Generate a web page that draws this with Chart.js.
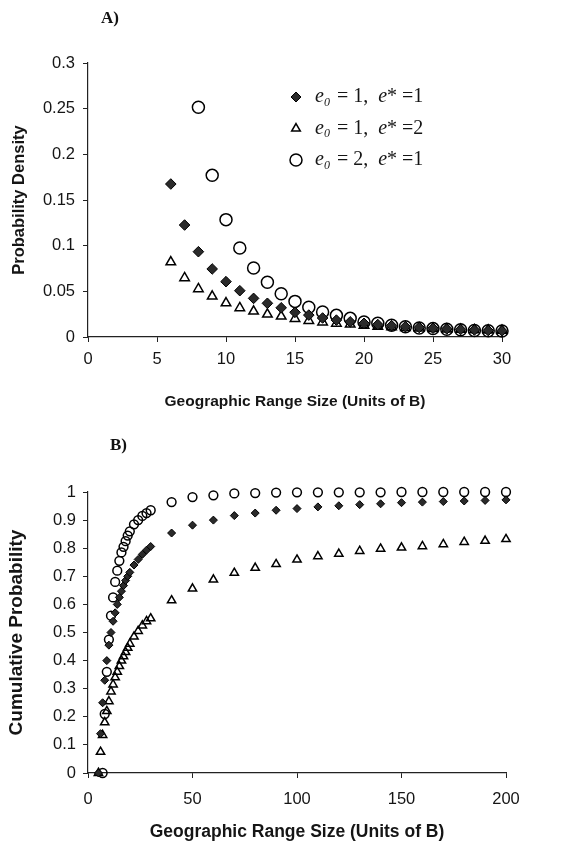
<!DOCTYPE html>
<html><head><meta charset="utf-8">
<script src="https://cdn.jsdelivr.net/npm/chart.js@4/dist/chart.umd.min.js"></script>
<style>
html,body{margin:0;padding:0;background:#fff;}
#wrap{position:relative;width:584px;height:852px;overflow:hidden;}
canvas{position:absolute;left:0;}
#cA{top:0;} #cB{top:420px;}
.lab{position:absolute;font-family:"Liberation Serif","Times New Roman",serif;font-weight:bold;font-size:17px;color:#111;}
</style></head><body>
<div id="wrap">
<canvas id="cA" width="584" height="420"></canvas>
<canvas id="cB" width="584" height="432"></canvas>
<div class="lab" style="left:101px;top:8px">A)</div>
<div class="lab" style="left:110px;top:435px">B)</div>
</div>
<script>
// ---------- data ----------
const e0Values = [1, 1, 2];
const eStarValues = [1, 2, 1];

// Panel A: probability density
const xA_dia = [6,7,8,9,10,11,12,13,14,15,16,17,18,19,20,21,22,23,24,25,26,27,28,29,30];
const densDia = [0.1675,0.1226,0.0934,0.0745,0.0606,0.0507,0.0423,0.0369,0.0320,0.0270,0.0240,0.0208,0.0185,0.0166,0.0150,0.0136,0.0124,0.0113,0.0104,0.0096,0.0089,0.0082,0.0077,0.0071,0.0067];
const xA_tri = [6,7,8,9,10,11,12,13,14,15,16,17,18,19,20,21,22,23,24,25,26,27,28,29,30];
const densTri = [0.0820,0.0646,0.0526,0.0445,0.0372,0.0318,0.0281,0.0248,0.0226,0.0200,0.0179,0.0162,0.0148,0.0139,0.0126,0.0116,0.0109,0.0102,0.0096,0.0091,0.0086,0.0081,0.0077,0.0073,0.0070];
const xA_circ = [8,9,10,11,12,13,14,15,16,17,18,19,20,21,22,23,24,25,26,27,28,29,30];
const densCirc = [0.2515,0.1770,0.1285,0.0974,0.0755,0.0599,0.0474,0.0390,0.0325,0.0274,0.0237,0.0204,0.0164,0.0150,0.0128,0.0113,0.0098,0.0092,0.0084,0.0079,0.0072,0.0068,0.0065];

const xTicksA = [0,5,10,15,20,25,30];
const xTickLabelsA = ['0','5','10','15','20','25','30'];
const yTicksA = [0,0.05,0.1,0.15,0.2,0.25,0.3];
const yTickLabelsA = ['0','0.05','0.1','0.15','0.2','0.25','0.3'];

// Panel B: cumulative probability
const xB_dia = [5,6,7,8,9,10,11,12,13,14,15,16,17,18,19,20,22,24,26,28,30,40,50,60,70,80,90,100,110,120,130,140,150,160,170,180,190,200];
const cumDia = [0,0.14,0.25,0.33,0.40,0.455,0.50,0.54,0.57,0.60,0.625,0.647,0.667,0.685,0.70,0.714,0.74,0.76,0.778,0.793,0.806,0.854,0.882,0.90,0.916,0.925,0.935,0.941,0.947,0.951,0.955,0.958,0.962,0.964,0.966,0.968,0.970,0.972];
const xB_tri = [5,6,7,8,9,10,11,12,13,14,15,16,17,18,19,20,22,24,26,28,30,40,50,60,70,80,90,100,110,120,130,140,150,160,170,180,190,200];
const cumTri = [0,0.075,0.135,0.18,0.22,0.255,0.29,0.315,0.34,0.36,0.38,0.40,0.415,0.43,0.445,0.46,0.485,0.505,0.525,0.54,0.55,0.614,0.656,0.688,0.712,0.73,0.743,0.759,0.771,0.78,0.79,0.798,0.802,0.807,0.814,0.822,0.826,0.832];
const xB_circ = [7,8,9,10,11,12,13,14,15,16,17,18,19,20,22,24,26,28,30,40,50,60,70,80,90,100,110,120,130,140,150,160,170,180,190,200];
const cumCirc = [0,0.21,0.36,0.475,0.56,0.625,0.68,0.72,0.755,0.785,0.805,0.825,0.845,0.86,0.885,0.90,0.915,0.925,0.935,0.964,0.982,0.988,0.995,0.996,0.998,0.999,0.999,0.999,0.999,0.999,1.0,1.0,1.0,1.0,1.0,1.0];

const xTicksB = [0,50,100,150,200];
const xTickLabelsB = ['0','50','100','150','200'];
const yTicksB = [0,0.1,0.2,0.3,0.4,0.5,0.6,0.7,0.8,0.9,1];
const yTickLabelsB = ['0','0.1','0.2','0.3','0.4','0.5','0.6','0.7','0.8','0.9','1'];

// ---------- helpers ----------
const pts = (xs, ys) => xs.map((x, i) => ({x: x, y: ys[i]}));
const SANS = '"Liberation Sans", Arial, sans-serif';
const INK = '#151515';

function axis(o) {
  return {
    type: 'linear', min: o.min, max: o.max,
    afterBuildTicks: s => { s.ticks = o.ticks.map(v => ({value: v})); },
    afterFit: s => { if (o.isY) s.width = o.fit; else s.height = o.fit; },
    ticks: {
      callback: v => o.labels[o.ticks.indexOf(v)],
      font: {family: SANS, size: o.tickFont}, color: INK, padding: o.tickPad,
      maxRotation: 0, autoSkip: false
    },
    grid: {drawOnChartArea: false, drawTicks: true, tickLength: 5, color: '#222', lineWidth: 1},
    border: {display: true, color: '#222', width: 1.2},
    title: {
      display: true, text: o.title, color: INK,
      font: {family: SANS, size: o.titleFont, weight: 'bold'},
      padding: o.isY ? {top: o.titlePad, bottom: 0} : {top: 0, bottom: o.titlePad}
    }
  };
}

function series(data, style, r, label) {
  const base = {label: label, data: data, showLine: false, clip: 12, pointRadius: r, pointHoverRadius: r};
  if (style === 'dia') return Object.assign(base, {pointStyle: 'rectRot', backgroundColor: '#2a2a2a', borderColor: '#000', borderWidth: 1});
  if (style === 'tri') return Object.assign(base, {pointStyle: 'triangle', backgroundColor: 'rgba(255,255,255,0)', borderColor: '#000', borderWidth: 1.5});
  return Object.assign(base, {pointStyle: 'circle', backgroundColor: 'rgba(255,255,255,0)', borderColor: '#000', borderWidth: 1.5});
}

const labelText = i => 'e0 = ' + e0Values[i] + ',  e* =' + eStarValues[i];

// in-plot legend with subscript, drawn on canvas as text
const innerLegend = {
  id: 'innerLegend',
  afterDatasetsDraw(chart, args, opts) {
    if (!opts || !opts.show) return;
    const ctx = chart.ctx;
    chart.data.datasets.forEach((ds, i) => {
      const y = opts.y0 + i * opts.dy;
      ctx.save();
      ctx.fillStyle = ds.backgroundColor; ctx.strokeStyle = ds.borderColor; ctx.lineWidth = ds.borderWidth;
      Chart.helpers.drawPoint(ctx, {pointStyle: ds.pointStyle, radius: opts.radii[i], rotation: 0, borderWidth: ds.borderWidth}, opts.x, y);
      ctx.fillStyle = INK; ctx.textBaseline = 'middle'; ctx.textAlign = 'left';
      let x = opts.tx;
      const seg = (t, font, dy) => { ctx.font = font; ctx.fillText(t, x, y + (dy || 0)); x += ctx.measureText(t).width; };
      const fs = opts.fontSize;
      seg('e', 'italic ' + fs + 'px "Liberation Serif", serif');
      seg('0', 'italic ' + Math.round(fs * 0.62) + 'px "Liberation Serif", serif', fs * 0.28);
      x += 2;
      seg(' = ' + e0Values[i] + ',  ', fs + 'px "Liberation Serif", serif');
      seg('e', 'italic ' + fs + 'px "Liberation Serif", serif');
      seg('* =' + eStarValues[i], fs + 'px "Liberation Serif", serif');
      ctx.restore();
    });
  }
};

// ---------- chart A ----------
new Chart(document.getElementById('cA'), {
  type: 'scatter',
  data: {datasets: [
    series(pts(xA_dia, densDia), 'dia', 5.3, labelText(0)),
    series(pts(xA_tri, densTri), 'tri', 5.5, labelText(1)),
    series(pts(xA_circ, densCirc), 'circ', 6, labelText(2))
  ]},
  options: {
    responsive: false, animation: false, events: [],
    layout: {padding: {left: 0, top: 63, right: 82, bottom: 0}},
    plugins: {
      legend: {display: false}, tooltip: {enabled: false},
      innerLegend: {show: true, x: 296, tx: 315, y0: 97, dy: 31.5, fontSize: 20, radii: [5, 5, 6]}
    },
    scales: {
      x: axis({min: 0, max: 30, ticks: xTicksA, labels: xTickLabelsA, tickFont: 16.5, tickPad: 8, title: 'Geographic Range Size (Units of B)', titleFont: 15.5, titlePad: 9, isY: false, fit: 83}),
      y: axis({min: 0, max: 0.3, ticks: yTicksA, labels: yTickLabelsA, tickFont: 16.5, tickPad: 8, title: 'Probability Density', titleFont: 16.5, titlePad: 10, isY: true, fit: 88})
    }
  },
  plugins: [innerLegend]
});

// ---------- chart B ----------
new Chart(document.getElementById('cB'), {
  type: 'scatter',
  data: {datasets: [
    series(pts(xB_dia, cumDia), 'dia', 4, labelText(0)),
    series(pts(xB_tri, cumTri), 'tri', 4.8, labelText(1)),
    series(pts(xB_circ, cumCirc), 'circ', 4.4, labelText(2))
  ]},
  options: {
    responsive: false, animation: false, events: [],
    layout: {padding: {left: 0, top: 72, right: 78, bottom: 0}},
    plugins: {legend: {display: false}, tooltip: {enabled: false}, innerLegend: {show: false}},
    scales: {
      x: axis({min: 0, max: 200, ticks: xTicksB, labels: xTickLabelsB, tickFont: 16.5, tickPad: 12, title: 'Geographic Range Size (Units of B)', titleFont: 17.5, titlePad: 9, isY: false, fit: 79}),
      y: axis({min: 0, max: 1, ticks: yTicksB, labels: yTickLabelsB, tickFont: 16.5, tickPad: 7, title: 'Cumulative Probability', titleFont: 19, titlePad: 5, isY: true, fit: 88})
    }
  },
  plugins: [innerLegend]
});
</script>
</body></html>
